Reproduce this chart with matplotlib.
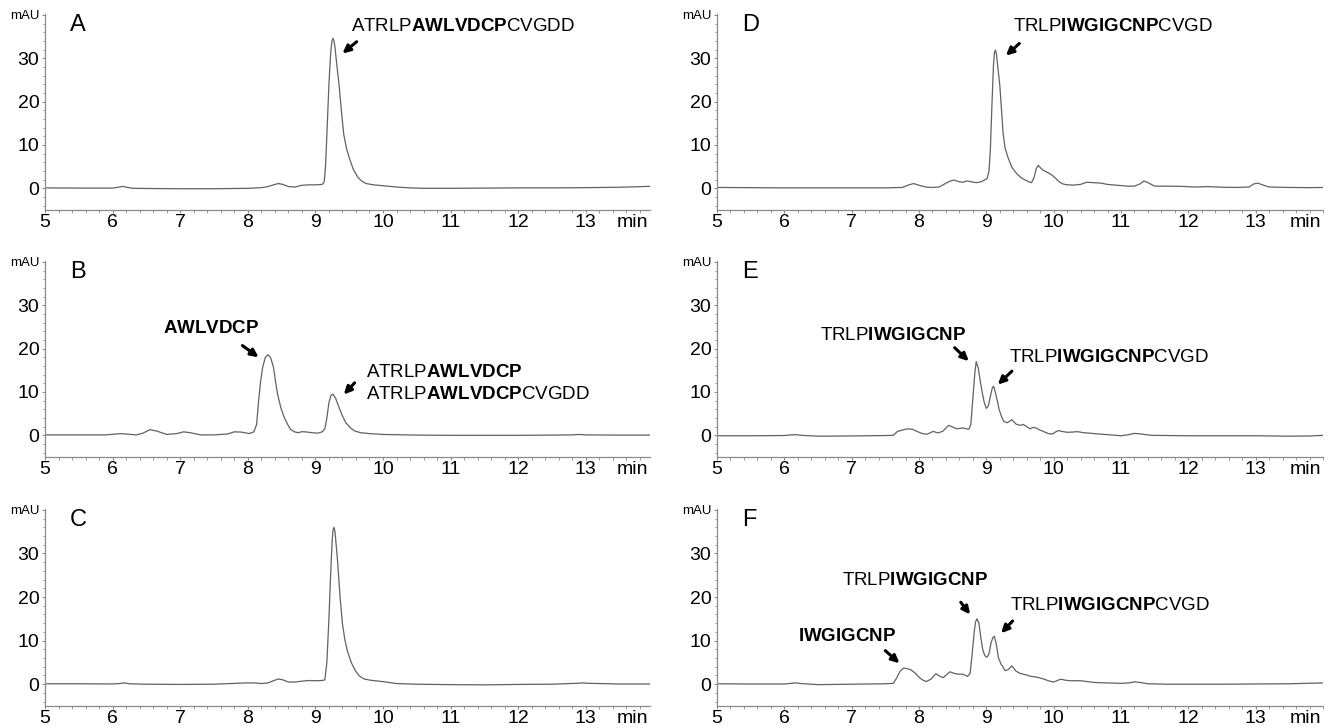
import matplotlib
matplotlib.use("Agg")
import matplotlib.pyplot as plt
from matplotlib import font_manager
from matplotlib.ticker import MultipleLocator, FixedLocator

# ---------------- data ----------------
tA = [5.0, 5.5, 6.0, 6.08, 6.15, 6.22, 6.3, 6.6, 7.0, 7.5, 8.0, 8.2, 8.3, 8.38, 8.45, 8.52, 8.6, 8.7, 8.8,
      8.9, 9.0, 9.10, 9.13, 9.15, 9.17, 9.20, 9.225, 9.245, 9.26, 9.275, 9.29, 9.32, 9.35, 9.39, 9.42, 9.46,
      9.50, 9.56, 9.63, 9.69, 9.75, 9.86, 10.0, 10.2, 10.4, 10.6, 11.0, 11.5, 12.0, 12.5, 13.0, 13.5, 13.95]
vA = [0.1, 0.05, 0.05, 0.25, 0.45, 0.2, 0.0, -0.05, -0.1, -0.1, 0.0, 0.15, 0.4, 0.8, 1.1, 0.9, 0.4, 0.3, 0.7,
      0.8, 0.8, 0.9, 1.5, 5.0, 12.4, 23.9, 31.0, 34.0, 34.6, 34.0, 32.5, 28.0, 23.9, 17.0, 12.4, 9.2,
      7.1, 4.4, 2.5, 1.6, 1.1, 0.8, 0.6, 0.3, 0.1, 0.0, 0.0, 0.05, 0.1, 0.1, 0.15, 0.25, 0.45]

tB = [5.0, 5.5, 5.9, 6.05, 6.12, 6.2, 6.35, 6.45, 6.55, 6.65, 6.8, 6.95, 7.05, 7.15, 7.3, 7.5, 7.7, 7.8, 7.9,
      8.02, 8.09, 8.13, 8.16, 8.19, 8.22, 8.26, 8.30, 8.34, 8.38, 8.41, 8.44, 8.49, 8.54, 8.59, 8.63, 8.69,
      8.75, 8.8, 8.88, 8.95, 9.04, 9.10, 9.14, 9.17, 9.20, 9.23, 9.26, 9.30, 9.35, 9.40, 9.45, 9.52, 9.58,
      9.67, 9.8, 10.0, 10.5, 11.0, 11.5, 12.0, 12.5, 12.8, 12.9, 13.0, 13.5, 13.95]
vB = [0.1, 0.1, 0.1, 0.3, 0.4, 0.3, 0.1, 0.5, 1.3, 1.0, 0.2, 0.4, 0.8, 0.6, 0.1, 0.1, 0.3, 0.8, 0.75,
      0.4, 0.8, 2.5, 8.0, 12.5, 15.7, 18.0, 18.6, 17.8, 15.7, 12.5, 9.5, 6.3, 4.1, 2.5, 1.4, 0.8,
      0.6, 0.85, 0.75, 0.6, 0.5, 0.8, 1.5, 4.0, 7.5, 9.2, 9.5, 8.5, 6.4, 4.5, 2.9, 1.7, 1.0,
      0.6, 0.4, 0.2, 0.05, 0.0, 0.0, 0.0, 0.05, 0.1, 0.2, 0.1, 0.05, 0.05]

tC = [5.0, 5.5, 6.0, 6.1, 6.17, 6.25, 6.5, 7.0, 7.5, 7.9, 8.0, 8.1, 8.2, 8.3, 8.38, 8.45, 8.52, 8.6, 8.7,
      8.8, 8.9, 9.0, 9.10, 9.14, 9.17, 9.20, 9.225, 9.245, 9.26, 9.275, 9.29, 9.31, 9.33, 9.365, 9.40,
      9.435, 9.47, 9.53, 9.59, 9.65, 9.72, 9.82, 10.0, 10.2, 10.5, 11.0, 11.5, 12.0, 12.5, 12.85, 12.95,
      13.05, 13.5, 13.95]
vC = [0.1, 0.1, 0.05, 0.15, 0.3, 0.1, 0.0, -0.05, 0.0, 0.25, 0.3, 0.3, 0.15, 0.3, 0.8, 1.2, 1.0, 0.5, 0.5,
      0.7, 0.85, 0.8, 0.85, 1.0, 5.0, 15.0, 25.0, 32.0, 35.3, 36.0, 35.0, 31.5, 27.9, 20.0, 13.9,
      10.3, 7.8, 5.0, 3.1, 1.9, 1.2, 0.9, 0.6, 0.15, 0.0, -0.1, -0.15, -0.05, 0.0, 0.2, 0.3,
      0.2, 0.05, 0.05]

tD = [5.0, 5.5, 6.0, 6.5, 7.0, 7.5, 7.75, 7.85, 7.92, 8.0, 8.1, 8.2, 8.3, 8.38, 8.45, 8.52, 8.6, 8.66, 8.71,
      8.78, 8.85, 8.92, 8.97, 9.01, 9.04, 9.06, 9.085, 9.105, 9.12, 9.135, 9.15, 9.17, 9.2, 9.25, 9.28,
      9.32, 9.38, 9.45, 9.52, 9.58, 9.63, 9.67, 9.71, 9.74, 9.77, 9.8, 9.84, 9.89, 9.94, 9.98, 10.03,
      10.08, 10.14, 10.2, 10.3, 10.4, 10.49, 10.6, 10.7, 10.8, 10.95, 11.1, 11.2, 11.28, 11.34, 11.4,
      11.5, 11.7, 11.9, 12.1, 12.3, 12.5, 12.7, 12.9, 12.97, 13.03, 13.1, 13.2, 13.5, 13.8, 14.0]
vD = [0.2, 0.15, 0.1, 0.1, 0.1, 0.1, 0.2, 0.8, 1.1, 0.7, 0.3, 0.2, 0.3, 1.0, 1.6, 1.9, 1.5, 1.4, 1.7,
      1.5, 1.3, 1.5, 1.9, 2.2, 4.0, 9.0, 20.0, 28.0, 31.3, 31.9, 31.0, 28.0, 23.8, 12.5, 9.2,
      7.2, 4.8, 3.4, 2.4, 1.9, 1.5, 1.3, 2.5, 4.5, 5.3, 4.8, 4.2, 3.8, 3.4, 3.0, 2.3,
      1.5, 1.0, 0.8, 0.75, 0.9, 1.4, 1.3, 1.2, 0.9, 0.7, 0.5, 0.5, 1.0, 1.7, 1.3,
      0.5, 0.5, 0.45, 0.3, 0.4, 0.25, 0.2, 0.3, 1.0, 1.2, 0.8, 0.3, 0.2, 0.15, 0.2]

tE = [5.0, 5.5, 6.0, 6.1, 6.17, 6.25, 6.5, 7.0, 7.5, 7.62, 7.68, 7.75, 7.83, 7.9, 7.97, 8.05, 8.12, 8.21,
      8.28, 8.35, 8.44, 8.5, 8.56, 8.65, 8.74, 8.77, 8.8, 8.83, 8.85, 8.88, 8.91, 8.94, 8.97, 9.0, 9.03,
      9.06, 9.09, 9.11, 9.14, 9.17, 9.19, 9.23, 9.26, 9.31, 9.38, 9.44, 9.5, 9.55, 9.6, 9.65, 9.7, 9.75,
      9.8, 9.86, 9.92, 9.98, 10.03, 10.07, 10.12, 10.2, 10.28, 10.35, 10.45, 10.6, 10.8, 11.0, 11.1, 11.2,
      11.3, 11.45, 11.7, 12.0, 12.5, 13.0, 13.5, 13.8, 14.0]
vE = [-0.1, -0.1, -0.05, 0.1, 0.15, 0.0, -0.2, -0.15, -0.05, 0.0, 0.9, 1.2, 1.5, 1.4, 0.9, 0.4, 0.25, 0.9,
      0.55, 0.9, 2.3, 1.9, 1.5, 1.7, 1.4, 2.5, 8.5, 14.5, 17.0, 15.5, 12.5, 9.8, 7.5, 6.2, 6.8,
      9.0, 11.0, 11.3, 9.5, 7.5, 5.9, 4.2, 3.2, 2.9, 3.6, 2.6, 2.3, 2.5, 2.0, 1.5, 1.85, 1.6,
      1.2, 0.8, 0.4, 0.3, 0.8, 1.1, 0.9, 0.7, 0.75, 0.85, 0.6, 0.4, 0.15, -0.1, 0.1, 0.45,
      0.3, 0.0, -0.05, -0.1, -0.1, -0.1, -0.2, -0.15, 0.0]

tF = [5.0, 5.5, 6.0, 6.1, 6.17, 6.25, 6.5, 7.0, 7.5, 7.62, 7.67, 7.72, 7.77, 7.82, 7.88, 7.94, 8.0, 8.05,
      8.11, 8.18, 8.25, 8.3, 8.36, 8.41, 8.46, 8.52, 8.58, 8.65, 8.72, 8.76, 8.79, 8.82, 8.84, 8.86, 8.89,
      8.92, 8.95, 8.98, 9.01, 9.04, 9.07, 9.1, 9.12, 9.15, 9.18, 9.22, 9.28, 9.33, 9.38, 9.44, 9.5, 9.6,
      9.66, 9.72, 9.78, 9.85, 9.92, 10.0, 10.05, 10.1, 10.18, 10.25, 10.4, 10.6, 10.8, 11.0, 11.12, 11.2,
      11.28, 11.4, 11.7, 12.0, 12.5, 13.0, 13.5, 14.0]
vF = [0.1, 0.05, 0.05, 0.2, 0.3, 0.15, -0.1, 0.0, 0.1, 0.2, 1.5, 3.0, 3.7, 3.6, 3.3, 2.6, 1.6, 1.0,
      0.6, 1.2, 2.4, 1.9, 1.5, 2.2, 2.85, 2.5, 2.3, 2.3, 1.8, 2.5, 7.0, 12.0, 14.3, 15.0, 14.0,
      10.5, 7.7, 6.5, 6.2, 7.0, 9.5, 10.8, 11.0, 9.0, 6.0, 4.6, 3.1, 3.4, 4.2, 3.0, 2.5, 2.1,
      1.8, 1.7, 1.5, 1.2, 0.8, 0.5, 0.8, 1.15, 0.9, 0.8, 0.8, 0.4, 0.3, 0.2, 0.3, 0.55,
      0.4, 0.1, 0.0, 0.0, 0.0, 0.05, 0.1, 0.3]

panel_letters = ["A", "B", "C", "D", "E", "F"]
x_ticks = [5, 6, 7, 8, 9, 10, 11, 12, 13]
y_ticks = [0, 10, 20, 30, 40]
y_tick_labels = ["0", "10", "20", "30", "mAU"]
x_unit = "min"

# peptide labels: (segments, text x, text y); segments = (string, bold?)
labels = {
    "A": [([("ATRLP", False), ("AWLVDCP", True), ("CVGDD", False)], 9.52, 37.3)],
    "B": [([("AWLVDCP", True)], 6.75, 24.7),
          ([("ATRLP", False), ("AWLVDCP", True)], 9.75, 14.4),
          ([("ATRLP", False), ("AWLVDCP", True), ("CVGDD", False)], 9.75, 9.5)],
    "C": [],
    "D": [([("TRLP", False), ("IWGIGCNP", True), ("CVGD", False)], 9.40, 37.4)],
    "E": [([("TRLP", False), ("IWGIGCNP", True)], 6.53, 23.1),
          ([("TRLP", False), ("IWGIGCNP", True), ("CVGD", False)], 9.34, 17.9)],
    "F": [([("IWGIGCNP", True)], 6.20, 11.0),
          ([("TRLP", False), ("IWGIGCNP", True)], 6.85, 23.7),
          ([("TRLP", False), ("IWGIGCNP", True), ("CVGD", False)], 9.35, 18.1)],
}
# arrows: (tail x, tail y, head x, head y)
arrows = {
    "A": [(9.61, 33.8, 9.40, 31.1)],
    "B": [(7.92, 20.7, 8.16, 18.0), (9.58, 12.1, 9.42, 9.4)],
    "C": [],
    "D": [(9.49, 33.4, 9.29, 30.6)],
    "E": [(8.53, 20.2, 8.74, 17.1), (9.38, 14.8, 9.17, 11.7)],
    "F": [(7.50, 7.7, 7.71, 4.8), (8.62, 18.8, 8.76, 16.0), (9.39, 14.5, 9.22, 11.7)],
}
traces = {"A": (tA, vA), "B": (tB, vB), "C": (tC, vC),
          "D": (tD, vD), "E": (tE, vE), "F": (tF, vF)}

# ---------------- fonts ----------------
def has_font(name):
    try:
        font_manager.findfont(font_manager.FontProperties(family=name), fallback_to_default=False)
        return True
    except Exception:
        return False

base_font = "Liberation Sans" if has_font("Liberation Sans") else "DejaVu Sans"
plt.rcParams["font.family"] = [base_font, "DejaVu Sans"]
plt.rcParams["mathtext.fontset"] = "custom"
plt.rcParams["mathtext.rm"] = base_font
plt.rcParams["mathtext.bf"] = base_font + ":bold"
plt.rcParams["mathtext.default"] = "regular"

# ---------------- figure ----------------
W, H = 1334, 728
fig = plt.figure(figsize=(W / 100, H / 100), dpi=100)

col_left = [45, 717]
col_right = [650, 1323]
row_top = [14, 261, 509]
row_bot = [210, 457, 706]
xmax_col = [13.95, 14.0]

axis_gray = "#8c8c8c"
line_gray = "#626262"
tick_fs = 14

for i, letter in enumerate(panel_letters):
    col, row = divmod(i, 3)
    l = col_left[col] / W
    w = (col_right[col] - col_left[col]) / W
    b = 1 - row_bot[row] / H
    h = (row_bot[row] - row_top[row]) / H
    ax = fig.add_axes([l, b, w, h])
    t, v = traces[letter]
    ax.plot(t, v, color=line_gray, lw=0.9)
    ax.set_xlim(5, xmax_col[col])
    ax.set_ylim(-5, 40.2)
    for s in ["top", "right"]:
        ax.spines[s].set_visible(False)
    for s in ["left", "bottom"]:
        ax.spines[s].set_color(axis_gray)
        ax.spines[s].set_linewidth(0.9)
    ax.xaxis.set_major_locator(FixedLocator(x_ticks))
    ax.xaxis.set_minor_locator(MultipleLocator(0.2))
    ax.yaxis.set_major_locator(FixedLocator(y_ticks))
    ax.yaxis.set_minor_locator(MultipleLocator(2))
    ax.set_xticklabels([str(x) for x in x_ticks])
    ax.set_yticklabels(y_tick_labels)
    ax.tick_params(which="major", length=2.5, width=0.8, color=axis_gray, labelsize=tick_fs)
    ax.tick_params(axis="x", which="major", pad=0.5)
    ax.tick_params(axis="y", which="major", pad=1.5)
    ax.tick_params(which="minor", length=1.8, width=0.6, color=axis_gray)
    ax.get_yticklabels()[-1].set_fontsize(9.5)
    ax.annotate(x_unit, xy=(xmax_col[col], 0), xycoords=("data", "axes fraction"),
                xytext=(-1, -3.0), textcoords="offset points", ha="right", va="top",
                fontsize=tick_fs)
    ax.text(5.37, 37.6, letter, ha="left", va="center", fontsize=17)

    for segs, x0, y0 in labels[letter]:
        s = ""
        for part, bold in segs:
            s += (r"$\mathbf{" + part + "}$") if bold else part
        ax.text(x0, y0, s, ha="left", va="center", fontsize=13.5)
    for x1, y1, x2, y2 in arrows[letter]:
        ax.annotate("", xy=(x2, y2), xytext=(x1, y1),
                    arrowprops=dict(arrowstyle="-|>,head_length=0.45,head_width=0.22",
                                    lw=2.2, color="black", shrinkA=0, shrinkB=0))

fig.savefig("out.png", dpi=100)
